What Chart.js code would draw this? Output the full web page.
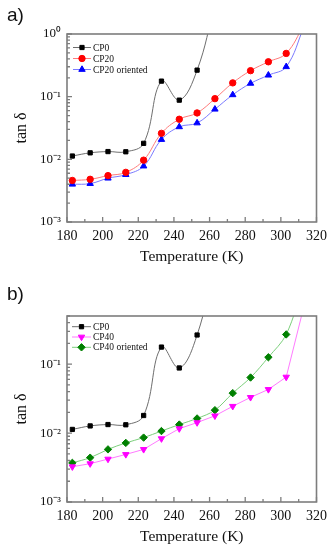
<!DOCTYPE html>
<html>
<head>
<meta charset="utf-8">
<script src="https://cdn.jsdelivr.net/npm/chart.js@4.4.1/dist/chart.umd.min.js"></script>
<style>
  body { margin: 0; background: #fff; }
  .panel { position: absolute; left: 0; width: 333px; height: 275px; }
  .tag { position: absolute; left: 7px; font-family: 'Liberation Sans', Arial, sans-serif; font-size: 19px; color: #111; }
</style>
</head>
<body>
<div class="panel" style="top:0"><canvas id="chartA"></canvas></div>
<div class="panel" style="top:275px"><canvas id="chartB"></canvas></div>
<div class="tag" style="top:4px">a)</div>
<div class="tag" style="top:283px">b)</div>
<script>
// temperatures (K)
const tempsCP0 = [183, 193, 203, 213, 223, 233, 243, 253, 263];
const temps = [183, 193, 203, 213, 223, 233, 243, 253, 263, 273, 283, 293, 303, 313];

// tan delta values
const cp0 = [0.0113, 0.0127, 0.0133, 0.0132, 0.018, 0.177, 0.088, 0.265, 3];
const cp20 = [0.0046, 0.0048, 0.0055, 0.0062, 0.0097, 0.026, 0.0436, 0.055, 0.093, 0.166, 0.26, 0.36, 0.49, 1.4];
const cp20Oriented = [0.0040, 0.0041, 0.0050, 0.0057, 0.0078, 0.0207, 0.033, 0.038, 0.063, 0.107, 0.163, 0.22, 0.30, 1.3];
const cp40 = [0.00325, 0.0036, 0.0042, 0.0049, 0.0058, 0.0083, 0.0116, 0.0142, 0.0178, 0.0245, 0.033, 0.043, 0.065, 0.7];
const cp40Oriented = [0.0037, 0.0044, 0.0058, 0.0072, 0.0086, 0.0107, 0.0133, 0.0163, 0.0215, 0.038, 0.064, 0.126, 0.27, 1.5];

// axis ticks
const xTicks = [180, 200, 220, 240, 260, 280, 300, 320];
const yTicksA = [0.001, 0.01, 0.1, 1];
const yLabelsA = ['10\u207B\u00B3', '10\u207B\u00B2', '10\u207B\u00B9', '10\u2070'];
const yTicksB = [0.001, 0.01, 0.1];
const yLabelsB = ['10\u207B\u00B3', '10\u207B\u00B2', '10\u207B\u00B9'];

const serif = "'Liberation Serif', 'Times New Roman', serif";
const axisGray = '#7d7d7d';

function pts(xs, ys) {
  return ys.map((v, i) => ({ x: xs[i], y: v }));
}

// box around the plot and inward ticks
const frameTicks = {
  id: 'frameTicks',
  afterDatasetsDraw(chart) {
    const { ctx, chartArea: a, scales: { x, y } } = chart;
    ctx.save();
    ctx.strokeStyle = axisGray;
    ctx.lineWidth = 1.3;
    ctx.beginPath();
    for (let t = x.min; t <= x.max; t += 10) {
      const px = x.getPixelForValue(t);
      const len = t % 20 === 0 ? 5 : 3;
      ctx.moveTo(px, a.bottom);
      ctx.lineTo(px, a.bottom - len);
    }
    for (let e = -3; e <= 0; e++) {
      for (let k = 1; k < 10; k++) {
        const v = k * Math.pow(10, e);
        if (v < y.min * 0.999 || v > y.max * 1.001) continue;
        const py = y.getPixelForValue(v);
        ctx.moveTo(a.left, py);
        ctx.lineTo(a.left + (k === 1 ? 5 : 3), py);
      }
    }
    ctx.stroke();
    ctx.lineWidth = 1.6;
    ctx.strokeRect(a.left, a.top, a.width, a.height);
    ctx.restore();
  }
};

// legend drawn inside the plot, line through marker
const insetLegend = {
  id: 'insetLegend',
  afterDraw(chart, args, opts) {
    const ctx = chart.ctx;
    ctx.save();
    ctx.font = '9.5px ' + serif;
    ctx.textBaseline = 'middle';
    chart.data.datasets.forEach((ds, i) => {
      const yy = opts.y + i * opts.dy;
      ctx.strokeStyle = ds.borderColor;
      ctx.lineWidth = 1;
      ctx.beginPath();
      ctx.moveTo(opts.x0, yy);
      ctx.lineTo(opts.x1, yy);
      ctx.stroke();
      ctx.fillStyle = ds.pointBackgroundColor;
      ctx.strokeStyle = ds.pointBorderColor;
      Chart.helpers.drawPoint(ctx, {
        pointStyle: ds.pointStyle, radius: ds.pointRadius,
        rotation: ds.pointRotation || 0, borderWidth: 1
      }, (opts.x0 + opts.x1) / 2, yy);
      ctx.fillStyle = '#111';
      ctx.fillText(ds.label, opts.x1 + 2, yy + 0.5);
    });
    ctx.restore();
  }
};

function series(label, xs, ys, line, mark, style, radius, tension, rotation) {
  return {
    label: label,
    data: pts(xs, ys),
    borderColor: line,
    borderWidth: 1,
    pointBackgroundColor: mark,
    pointBorderColor: mark,
    pointBorderWidth: 1,
    pointStyle: style,
    pointRadius: radius,
    pointRotation: rotation || 0,
    tension: tension
  };
}

function makeChart(id, datasets, yMax, yTicks, yLabels, pad, legend) {
  return new Chart(document.getElementById(id), {
    type: 'line',
    data: { datasets: datasets },
    options: {
      responsive: true,
      maintainAspectRatio: false,
      animation: false,
      layout: { padding: pad },
      plugins: { legend: { display: false }, tooltip: { enabled: false }, insetLegend: legend },
      scales: {
        x: {
          type: 'linear',
          min: 180, max: 320,
          afterBuildTicks: s => { s.ticks = xTicks.map(v => ({ value: v })); },
          afterFit: s => { s.height = 48; },
          grid: { display: false, drawTicks: false },
          border: { display: false },
          ticks: { font: { family: serif, size: 14 }, color: '#111', padding: 6 },
          title: { display: true, text: 'Temperature (K)', font: { family: serif, size: 15.5 }, color: '#111', padding: { top: 0, bottom: 4 } }
        },
        y: {
          type: 'logarithmic',
          min: 0.001, max: yMax,
          afterBuildTicks: s => { s.ticks = yTicks.map(v => ({ value: v })); },
          afterFit: s => { s.width = 67; },
          grid: { display: false, drawTicks: false },
          border: { display: false },
          ticks: {
            font: { family: serif, size: 13 }, color: '#111', padding: 6,
            callback: v => yLabels[yTicks.findIndex(t => Math.abs(t - v) / t < 1e-6)]
          },
          title: { display: true, text: 'tan \u03B4', font: { family: serif, size: 16 }, color: '#111', padding: { top: 12, bottom: 0 } }
        }
      }
    },
    plugins: [frameTicks, insetLegend]
  });
}

makeChart('chartA', [
  series('CP0', tempsCP0, cp0, '#6e6e6e', '#000000', 'rect', 3, 0.4),
  series('CP20', temps, cp20, '#ff7a7a', '#ff0000', 'circle', 3.2, 0.4),
  series('CP20 oriented', temps, cp20Oriented, '#7a7aff', '#0000ff', 'triangle', 3.7, 0.4)
], 1, yTicksA, yLabelsA, { left: 0, right: 14, top: 34, bottom: 5 },
  { x0: 73, x1: 91, y: 47.5, dy: 11 });

makeChart('chartB', [
  series('CP0', tempsCP0, cp0, '#6e6e6e', '#000000', 'rect', 3, 0.4),
  series('CP40', temps, cp40, '#ff7aff', '#ff00ff', 'triangle', 3.7, 0, 180),
  series('CP40 oriented', temps, cp40Oriented, '#7ccf7c', '#008000', 'rectRot', 3.7, 0.35)
], 0.5, yTicksB, yLabelsB, { left: 0, right: 14, top: 41, bottom: 0 },
  { x0: 72, x1: 91, y: 51.7, dy: 10.3 });
</script>
</body>
</html>
